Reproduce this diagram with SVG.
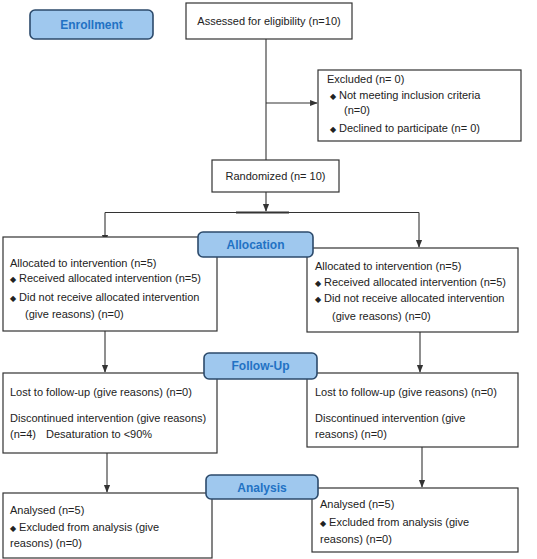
<svg xmlns="http://www.w3.org/2000/svg" width="537" height="559" viewBox="0 0 537 559">
<defs>
<style>
.box{fill:#fff;stroke:#333;stroke-width:1.2}
.hdr{fill:#9fc8ee;stroke:#2c4a6b;stroke-width:1.6}
.t{font-family:"Liberation Sans",Arial,sans-serif;font-size:11px;fill:#222}
.h{font-family:"Liberation Sans",Arial,sans-serif;font-size:12px;font-weight:bold;fill:#2272c4}
.b{font-size:7.5px}
.ln{stroke:#333;stroke-width:1.1;fill:none}
</style>
<marker id="ah" viewBox="0 0 10 10" refX="9" refY="5" markerWidth="7" markerHeight="7" orient="auto">
<path d="M0,1 L10,5 L0,9 z" fill="#333"/>
</marker>
</defs>
<rect width="537" height="559" fill="#fff"/>
<g id="connectors">
<line class="ln" x1="266" y1="39" x2="266" y2="160"/>
<line class="ln" x1="266" y1="103" x2="317" y2="103" marker-end="url(#ah)"/>
<line class="ln" x1="266" y1="192" x2="266" y2="211" marker-end="url(#ah)"/>
<line class="ln" x1="105" y1="212.5" x2="419" y2="212.5"/>
<line stroke="#333" stroke-width="2" x1="236" y1="212.5" x2="289" y2="212.5"/>
<line class="ln" x1="105" y1="212.5" x2="105" y2="242" marker-end="url(#ah)"/>
<line class="ln" x1="419" y1="212.5" x2="419" y2="247" marker-end="url(#ah)"/>
<line class="ln" x1="105" y1="331" x2="105" y2="372" marker-end="url(#ah)"/>
<line class="ln" x1="420" y1="332" x2="420" y2="372" marker-end="url(#ah)"/>
<line class="ln" x1="107" y1="453" x2="107" y2="492" marker-end="url(#ah)"/>
<line class="ln" x1="422" y1="447" x2="422" y2="487" marker-end="url(#ah)"/>
</g>
<g id="enrollment">
<rect class="hdr" x="30" y="10" width="123" height="29" rx="5"/>
<text class="h" x="91.5" y="29" text-anchor="middle">Enrollment</text>
</g>
<g id="assessed">
<rect class="box" x="186" y="3" width="166" height="36"/>
<text class="t" x="269" y="25" text-anchor="middle">Assessed for eligibility (n=10)</text>
</g>
<g id="excluded">
<rect class="box" x="318" y="70" width="203" height="71"/>
<text class="t" x="327" y="83">Excluded  (n= 0)</text>
<text class="t" x="330" y="99"><tspan class="b">◆</tspan>  Not meeting inclusion criteria</text>
<text class="t" x="344" y="114">(n=0)</text>
<text class="t" x="330" y="132"><tspan class="b">◆</tspan>  Declined to participate (n= 0)</text>
</g>
<g id="randomized">
<rect class="box" x="212" y="160" width="127" height="32"/>
<text class="t" x="275.5" y="180" text-anchor="middle">Randomized (n= 10)</text>
</g>
<g id="alloc-left">
<rect class="box" x="3" y="237" width="214" height="94"/>
<text class="t" x="10" y="267">Allocated to intervention (n=5)</text>
<text class="t" x="10" y="282"><tspan class="b">◆</tspan> Received allocated intervention (n=5)</text>
<text class="t" x="10" y="301"><tspan class="b">◆</tspan> Did not receive allocated intervention</text>
<text class="t" x="25" y="318">(give reasons) (n=0)</text>
</g>
<g id="alloc-right">
<rect class="box" x="307" y="248" width="211" height="84"/>
<text class="t" x="315" y="270">Allocated to intervention (n=5)</text>
<text class="t" x="315" y="286"><tspan class="b">◆</tspan> Received allocated intervention (n=5)</text>
<text class="t" x="315" y="302"><tspan class="b">◆</tspan> Did not receive allocated intervention</text>
<text class="t" x="332" y="320">(give reasons) (n=0)</text>
</g>
<g id="allocation">
<rect class="hdr" x="198" y="232" width="115" height="25" rx="5"/>
<text class="h" x="255.5" y="249" text-anchor="middle">Allocation</text>
</g>
<g id="follow-left">
<rect class="box" x="3" y="373" width="214" height="80"/>
<text class="t" x="10" y="396">Lost to follow-up (give reasons) (n=0)</text>
<text class="t" x="10" y="422">Discontinued intervention (give reasons)</text>
<text class="t" x="10" y="438">(n=4)<tspan x="46">Desaturation to &lt;90%</tspan></text>
</g>
<g id="follow-right">
<rect class="box" x="307" y="373" width="211" height="74"/>
<text class="t" x="315" y="396">Lost to follow-up (give reasons) (n=0)</text>
<text class="t" x="315" y="422">Discontinued intervention (give</text>
<text class="t" x="315" y="438">reasons) (n=0)</text>
</g>
<g id="followup">
<rect class="hdr" x="204" y="353" width="113" height="26" rx="5"/>
<text class="h" x="260.5" y="370" text-anchor="middle">Follow-Up</text>
</g>
<g id="analysis-left">
<rect class="box" x="3" y="493" width="209" height="65"/>
<text class="t" x="10" y="514">Analysed  (n=5)</text>
<text class="t" x="10" y="531"><tspan class="b">◆</tspan> Excluded from analysis (give</text>
<text class="t" x="10" y="547">reasons) (n=0)</text>
</g>
<g id="analysis-right">
<rect class="box" x="312" y="488" width="206" height="64"/>
<text class="t" x="320" y="508">Analysed  (n=5)</text>
<text class="t" x="320" y="526"><tspan class="b">◆</tspan> Excluded from analysis (give</text>
<text class="t" x="320" y="543">reasons) (n=0)</text>
</g>
<g id="analysis">
<rect class="hdr" x="206" y="475" width="112" height="24" rx="5"/>
<text class="h" x="262" y="492" text-anchor="middle">Analysis</text>
</g>
</svg>
